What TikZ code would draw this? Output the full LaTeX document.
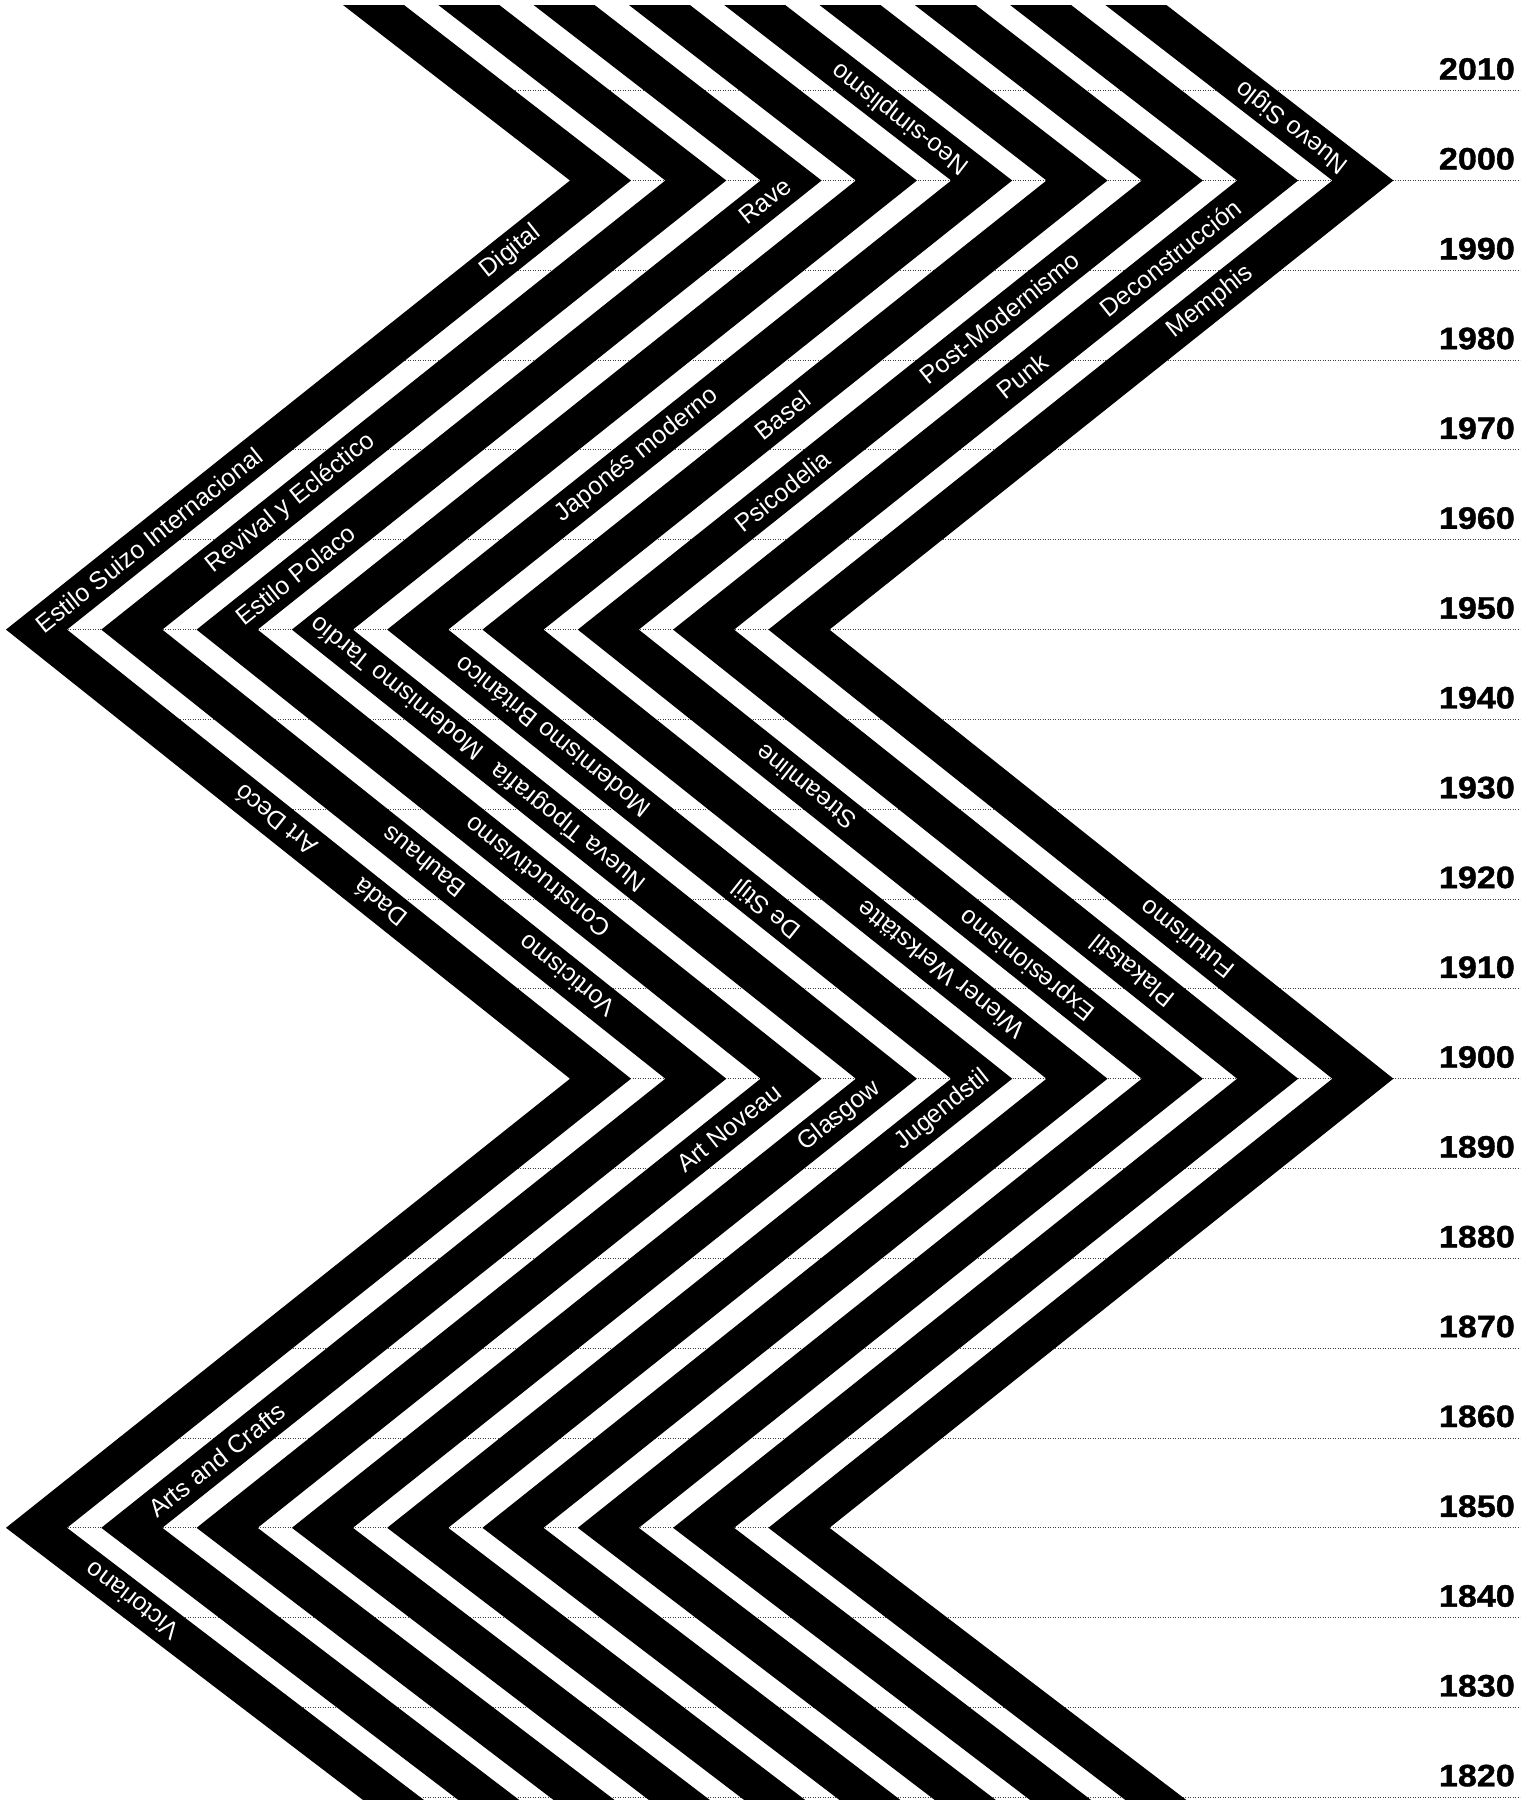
\documentclass[tikz,border=0pt]{standalone}
\usepackage{fontspec}
\setmainfont{Liberation Sans}
\newfontfamily\yearfont[FakeStretch=1.1,FakeBold=1.2]{Liberation Sans Bold}

\begin{document}
\begin{tikzpicture}[x=1pt, y=-1pt,
    era up/.style={text=white, inner sep=0pt, font=\fontsize{25}{30}\selectfont, rotate=38.5},
    era down/.style={text=white, inner sep=0pt, font=\fontsize{25}{30}\selectfont, rotate=141.5},
    yearline/.style={black!75, line width=1pt, dash pattern=on 1.2pt off 1.3pt},
    yearlabel/.style={anchor=base east, inner sep=0pt, font=\yearfont\fontsize{31}{36}\selectfont}]
    \useasboundingbox (0,0) rectangle (1538,1800);

    % Decade lines, only right of the band
    \begin{scope}
        \clip (343,0) -- (343,5) -- (570,180.5) -- (6,629.6) -- (570,1078.7) -- (6,1527.8)
            -- (363,1800) -- (1538,1800) -- (1538,0) -- cycle;
        \foreach \yr in {2010,2000,...,1820} {
            \pgfmathsetmacro{\ly}{90.7+(2010-\yr)*8.982}
            \draw[yearline] (0,\ly) -- (1520,\ly);
        }
    \end{scope}

    % Zigzag stripes
    \foreach \k in {0,...,8} {
        \fill[black, shift={(\k*95.3,0)}] (343,5) -- (570,180.5) -- (6,629.6) -- (570,1078.7)
            -- (6,1527.8) -- (363,1800) -- (424,1800) -- (67,1527.8) -- (631,1078.7)
            -- (67,629.6) -- (631,180.5) -- (404,5) -- cycle;
    }

    % Years
    \foreach \yr in {2010,2000,...,1820} {
        \pgfmathsetmacro{\ly}{90.7+(2010-\yr)*8.982}
        \node[yearlabel] (y\yr) at (1515,{\ly-11}) {\yr};
    }

    % Movements, rising parts
    \node[era up] (digital) at (510.7,252) {Digital};
    \node[era up] (rave) at (765.4,201) {Rave};
    \node[era up] (postmod) at (999.6,318) {Post-Modernismo};
    \node[era up] (decon) at (1170.3,258) {Deconstrucción};
    \node[era up] (memphis) at (1210.3,302) {Memphis};
    \node[era up] (punk) at (1022,376) {Punk};
    \node[era up] (basel) at (782.5,415) {Basel};
    \node[era up] (psico) at (782.4,491) {Psicodelia};
    \node[era up] (japones) at (637,455) {Japonés moderno};
    \node[era up] (revival) at (290.8,503) {Revival y Ecléctico};
    \node[era up] (suizo) at (149,540) {Estilo Suizo Internacional};
    \node[era up] (polaco) at (295.7,575) {Estilo Polaco};
    \node[era up] (artnoveau) at (729,1128) {Art Noveau};
    \node[era up] (glasgow) at (839.5,1116) {Glasgow};
    \node[era up] (jugend) at (942.4,1110) {Jugendstil};
    \node[era up] (arts) at (216.9,1460) {Arts and Crafts};

    % Movements, falling parts
    \node[era down, rotate=0.8] (nuevo) at (1292.4,126) {Nuevo Siglo};
    \node[era down, rotate=0.8] (neo) at (900.7,118) {Neo-simplismo};
    \node[era down] (tardio) at (396.5,688.6) {Modernismo Tardío};
    \node[era down] (britanico) at (552.6,737) {Modernismo Británico};
    \node[era down] (tipografia) at (569,826) {Nueva Tipografía};
    \node[era down] (constructivismo) at (537.6,877) {Constructivismo};
    \node[era down] (bauhaus) at (423.7,862) {Bauhaus};
    \node[era down] (artdeco) at (275.6,820) {Art Decó};
    \node[era down] (dada) at (380,903) {Dadá};
    \node[era down] (vorticismo) at (566.8,976) {Vorticismo};
    \node[era down] (streamline) at (806,787) {Streamline};
    \node[era down] (destijl) at (767,908) {De Stijl};
    \node[era down] (wiener) at (940.5,970) {Wiener Werkstätte};
    \node[era down] (expresionismo) at (1028,964) {Expresionismo};
    \node[era down] (plakatstil) at (1132,971) {Plakatstil};
    \node[era down] (futurismo) at (1187,939) {Futurismo};
    \node[era down, rotate=1.2] (victoriano) at (132.5,1601) {Victoriano};
\end{tikzpicture}
\end{document}
